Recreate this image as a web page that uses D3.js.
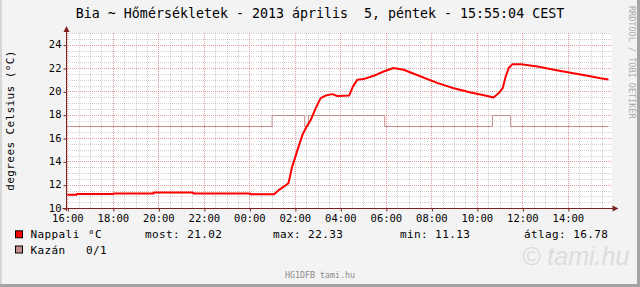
<!DOCTYPE html>
<html>
<head>
<meta charset="utf-8">
<script src="https://cdn.jsdelivr.net/npm/d3@7"></script>
<style>
  html, body { margin: 0; padding: 0; background: #f3f3f3; }
  svg { display: block; }
  text { font-family: "DejaVu Sans Mono", monospace; white-space: pre; }
</style>
</head>
<body>
<div id="chart"></div>
<script>
// values
const titleText = "Bia ~ Hőmérsékletek - 2013 április  5, péntek - 15:55:04 CEST";
const yTitle = "degrees Celsius (°C)";
const startTime = "2013-04-04 15:55:04";
const endTime = "2013-04-05 15:55:04";

// Nappali temperature, HH:MM (day rolls over at midnight)
const nappaliTimes = ["16:00", "16:24", "16:25", "18:01", "18:02", "19:47", "19:48", "21:31", "21:32",
    "00:02", "00:03", "01:05", "01:18", "01:31", "01:43", "01:53", "02:07", "02:20", "02:31", "02:42",
    "02:55", "03:08", "03:21", "03:39", "03:52", "04:23", "04:33", "04:45", "05:01", "05:28", "05:54",
    "06:20", "06:47", "07:32", "08:17", "08:59", "09:44", "10:28", "10:44", "10:58", "11:08", "11:16",
    "11:24", "11:34", "11:56", "12:40", "13:23", "14:07", "14:52", "15:26", "15:47"];
const nappaliValues = [11.13, 11.13, 11.2, 11.2, 11.25, 11.25, 11.33, 11.33, 11.25,
    11.25, 11.18, 11.18, 11.55, 11.83, 12.12, 13.55, 14.98, 16.27, 16.98, 17.55,
    18.56, 19.42, 19.64, 19.76, 19.6, 19.64, 20.4, 21.0, 21.05, 21.33, 21.7,
    22.0, 21.85, 21.27, 20.7, 20.27, 19.9, 19.6, 19.47, 19.85, 20.27, 21.27,
    22.0, 22.33, 22.33, 22.13, 21.85, 21.6, 21.33, 21.13, 21.02];

// Kazán on/off state, drawn shifted to 17/18
const kazanTimes = ["16:00", "01:00", "02:26", "02:36", "05:57", "10:41", "11:29", "15:47"];
const kazanStates = [0, 1, 0, 1, 0, 1, 0, 0];
const kazanBase = 17;

// legend
const legendNames = ["Nappali", "Kazán"];
const legendUnits = ["°C", "0/1"];
const legendColors = ["#ff0000", "#c48e8e"];
const statLabels = ["most:", "max:", "min:", "átlag:"];
const statValues = [21.02, 22.33, 11.13, 16.78];

const yTicks = [10, 12, 14, 16, 18, 20, 22, 24];

const W = 640, H = 287;
const plot = { left: 65.5, right: 611.5, top: 33, bottom: 208 };

const parseFull = d3.timeParse("%Y-%m-%d %H:%M:%S");
function toDates(list) {
    // walk through HH:MM strings, bump the day when the clock wraps
    let day = 4, prev = -1;
    return list.map(s => {
        const [h, m] = s.split(":").map(Number);
        const mins = h * 60 + m;
        if (prev >= 0 && mins < prev) day++;
        prev = mins;
        return new Date(2013, 3, day, h, m);
    });
}

const nappali = toDates(nappaliTimes).map((t, i) => ({ t, v: nappaliValues[i] }));
const kazan = toDates(kazanTimes).map((t, i) => ({ t, v: kazanBase + kazanStates[i] }));

const x = d3.scaleTime()
    .domain([parseFull(startTime), parseFull(endTime)])
    .range([plot.left, plot.right]);
const y = d3.scaleLinear().domain([10, 25]).range([plot.bottom, plot.top]);

const svg = d3.select("#chart").append("svg")
    .attr("width", W).attr("height", H);

// background + 3d frame
svg.append("rect").attr("width", W).attr("height", H).attr("fill", "#f3f3f3");
svg.append("rect").attr("x", 0).attr("y", 0).attr("width", 2).attr("height", H).attr("fill", "#d6d6d6");
svg.append("rect").attr("x", W - 3).attr("y", 0).attr("width", 3).attr("height", H).attr("fill", "#a3a3a3");
svg.append("rect").attr("x", 0).attr("y", H - 3).attr("width", W).attr("height", 3).attr("fill", "#a3a3a3");

// canvas
svg.append("rect")
    .attr("x", plot.left).attr("y", plot.top)
    .attr("width", plot.right - plot.left).attr("height", plot.bottom - plot.top)
    .attr("fill", "#ffffff");

const px = v => Math.round(v) + 0.5;

// grid: minor first, then major (dotted, like rrdtool)
const gridG = svg.append("g").attr("shape-rendering", "crispEdges");
const minorT = x.ticks(d3.timeMinute.every(30));
const majorT = x.ticks(d3.timeHour.every(2));
const minorV = d3.range(10, 25.01, 0.5);
const minorColor = "rgba(140,140,140,0.4)";
const majorColor = "rgba(255,50,50,0.35)";

gridG.selectAll(".vminor").data(minorT).join("line")
    .attr("x1", d => px(x(d))).attr("x2", d => px(x(d)))
    .attr("y1", plot.top).attr("y2", plot.bottom)
    .attr("stroke", minorColor).attr("stroke-dasharray", "1,1");
gridG.selectAll(".hminor").data(minorV).join("line")
    .attr("x1", plot.left).attr("x2", plot.right)
    .attr("y1", d => px(y(d))).attr("y2", d => px(y(d)))
    .attr("stroke", minorColor).attr("stroke-dasharray", "1,1");
gridG.selectAll(".vmajor").data(majorT).join("line")
    .attr("x1", d => px(x(d))).attr("x2", d => px(x(d)))
    .attr("y1", plot.top).attr("y2", plot.bottom)
    .attr("stroke", majorColor).attr("stroke-dasharray", "1,1");
gridG.selectAll(".hmajor").data(yTicks).join("line")
    .attr("x1", plot.left).attr("x2", plot.right)
    .attr("y1", d => px(y(d))).attr("y2", d => px(y(d)))
    .attr("stroke", majorColor).attr("stroke-dasharray", "1,1");

// series
svg.append("path").datum(kazan)
    .attr("fill", "none").attr("stroke", legendColors[1]).attr("stroke-width", 1)
    .attr("d", d3.line().curve(d3.curveStepAfter).x(d => x(d.t)).y(d => px(y(d.v))));

svg.append("path").datum(nappali)
    .attr("fill", "none").attr("stroke", legendColors[0]).attr("stroke-width", 2)
    .attr("stroke-linejoin", "round")
    .attr("d", d3.line().x(d => x(d.t)).y(d => y(d.v)));

// axes
const axisColor = "#7d2222";
const xAxis = svg.append("g")
    .attr("transform", `translate(0,${px(plot.bottom)})`)
    .call(d3.axisBottom(x).tickValues(majorT).tickFormat(d3.timeFormat("%H:%M")).tickSize(3).tickSizeOuter(0));
xAxis.select(".domain").remove();
xAxis.selectAll(".tick line").attr("stroke", axisColor).attr("transform", "translate(0.5,0)");
xAxis.selectAll(".tick text")
    .attr("y", 13).attr("dy", 0)
    .style("font-family", "DejaVu Sans Mono").style("font-size", "10.5px").attr("fill", "#000");

const yAxis = svg.append("g")
    .attr("transform", `translate(${px(plot.left)},0)`)
    .call(d3.axisLeft(y).tickValues(yTicks).tickSize(3).tickSizeOuter(0));
yAxis.select(".domain").remove();
yAxis.selectAll(".tick line").attr("stroke", axisColor).attr("transform", "translate(0,0.5)");
yAxis.selectAll(".tick text")
    .attr("x", -5).attr("dy", "0.3em")
    .style("font-family", "DejaVu Sans Mono").style("font-size", "10.5px").attr("fill", "#000");

// axis lines with arrows
svg.append("line").attr("x1", px(plot.left)).attr("x2", px(plot.left))
    .attr("y1", plot.bottom + 3).attr("y2", plot.top - 3).attr("stroke", axisColor);
svg.append("line").attr("x1", plot.left - 3).attr("x2", plot.right + 3)
    .attr("y1", px(plot.bottom)).attr("y2", px(plot.bottom)).attr("stroke", axisColor);
const ax = px(plot.left), ay = px(plot.bottom);
svg.append("path").attr("fill", axisColor)
    .attr("d", `M${ax - 3},${plot.top - 1}L${ax + 3},${plot.top - 1}L${ax},${plot.top - 7}Z`);
svg.append("path").attr("fill", axisColor)
    .attr("d", `M${plot.right + 1},${ay - 3}L${plot.right + 1},${ay + 3}L${plot.right + 7},${ay}Z`);

// title
svg.append("text").attr("x", 320).attr("y", 17.5).attr("text-anchor", "middle")
    .style("font-size", "13.3px").attr("fill", "#000").text(titleText);

// y axis title
svg.append("text").attr("transform", `translate(14,${(plot.top + plot.bottom) / 2}) rotate(-90)`)
    .attr("text-anchor", "middle").style("font-size", "11px").style("letter-spacing", "0.4px")
    .attr("fill", "#000").text(yTitle);

// rrdtool credit on the right side
svg.append("text").attr("transform", "translate(629,6) rotate(90)")
    .style("font-size", "8.5px").attr("fill", "#aaa").text("RRDTOOL / TOBI OETIKER");

// legend
const legendRows = [238.3, 253.5];
const legendFont = { size: "11px", spacing: "0.4px" };
legendNames.forEach((name, i) => {
    svg.append("rect").attr("x", 15.5).attr("y", legendRows[i] - 7.5).attr("width", 7).attr("height", 7)
        .attr("fill", legendColors[i]).attr("stroke", "#000");
    svg.append("text").attr("x", 30.5).attr("y", legendRows[i])
        .style("font-size", legendFont.size).style("letter-spacing", legendFont.spacing).text(name);
    svg.append("text").attr("x", i === 0 ? 88 : 86).attr("y", legendRows[i])
        .style("font-size", legendFont.size).style("letter-spacing", legendFont.spacing).text(legendUnits[i]);
});
const statX = [145, 273, 400, 524];
statLabels.forEach((lab, i) => {
    svg.append("text").attr("x", statX[i]).attr("y", legendRows[0])
        .style("font-size", legendFont.size).style("letter-spacing", legendFont.spacing)
        .text(`${lab} ${statValues[i].toFixed(2)}`);
});

// footer + watermark
svg.append("text").attr("x", 522).attr("y", 265)
    .style("font-family", "'Liberation Sans', Arial, sans-serif").style("font-style", "italic")
    .style("font-size", "25px").attr("fill", "#dcdcdc").text("© tami.hu");
svg.append("text").attr("x", 320).attr("y", 278).attr("text-anchor", "middle")
    .style("font-size", "8.3px").attr("fill", "#8a8a8a").text("HG1DFB tami.hu");
</script>
</body>
</html>
